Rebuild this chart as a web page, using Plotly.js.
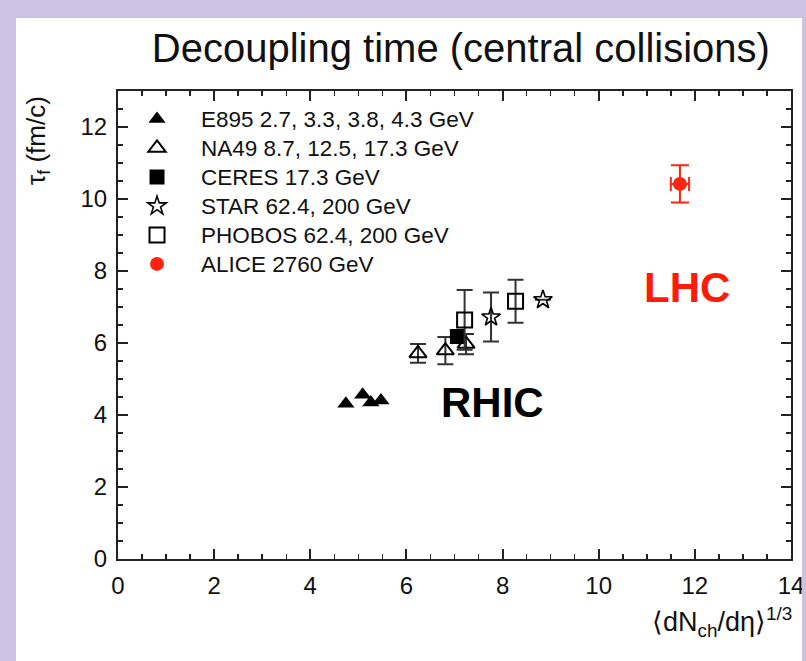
<!DOCTYPE html>
<html><head><meta charset="utf-8">
<script src="https://cdn.plot.ly/plotly-3.0.1.min.js"></script>
<style>
html,body{margin:0;padding:0;width:806px;height:661px;overflow:hidden;background:#cdc2e3;}
#chart{position:absolute;left:16px;top:18px;width:786px;height:643px;background:#fff;overflow:hidden;}
</style></head><body><div id="chart"></div>
<script>
// ---- data ----
const e895X = [4.74, 5.09, 5.26, 5.47];
const e895Y = [4.31, 4.56, 4.35, 4.40];

const na49X = [6.24, 6.81, 7.24];
const na49Y = [5.71, 5.79, 5.97];
const na49Err = [0.26, 0.38, 0.28];

const ceresX = [7.06];
const ceresY = [6.18];

const starX = [7.76, 8.84];
const starY = [6.72, 7.20];
const starErr = [0.68, 0];

const phobosX = [7.21, 8.27];
const phobosY = [6.64, 7.16];
const phobosErr = [0.83, 0.60];

const aliceX = [11.69];
const aliceY = [10.42];
const aliceErrY = [0.52];
const aliceErrX = [0.19];

const names = [
  'E895 2.7, 3.3, 3.8, 4.3 GeV',
  'NA49 8.7, 12.5, 17.3 GeV',
  'CERES 17.3 GeV',
  'STAR 62.4, 200 GeV',
  'PHOBOS 62.4, 200 GeV',
  'ALICE 2760 GeV'
];
const xTicks = [0, 2, 4, 6, 8, 10, 12, 14];
const yTicks = [0, 2, 4, 6, 8, 10, 12];

// ---- styling ----
const FONT = 'Liberation Sans, Arial, Helvetica, sans-serif';
const INK = '#222';
const RED = '#ff2410';
const errBlack = (arr) => ({type: 'data', array: arr, visible: true, color: '#333', thickness: 2, width: 8});
const legName = (s) => '<span style="font-size:22.5px">' + s + '</span>';

const traces = [
  {x: e895X, y: e895Y, name: legName(names[0]), type: 'scatter', mode: 'markers',
   marker: {symbol: 'triangle-up', size: 15, color: '#000'}},
  {x: na49X, y: na49Y, name: legName(names[1]), type: 'scatter', mode: 'markers',
   error_y: errBlack(na49Err),
   marker: {symbol: 'triangle-up-open', size: 15, color: '#000', line: {width: 2, color: '#000'}}},
  {x: ceresX, y: ceresY, name: legName(names[2]), type: 'scatter', mode: 'markers',
   marker: {symbol: 'square', size: 15, color: '#000'}},
  {x: starX, y: starY, name: legName(names[3]), type: 'scatter', mode: 'markers',
   error_y: errBlack(starErr),
   marker: {symbol: 'star-open', size: 14, color: '#000', line: {width: 1.6, color: '#000'}}},
  {x: phobosX, y: phobosY, name: legName(names[4]), type: 'scatter', mode: 'markers',
   error_y: errBlack(phobosErr),
   marker: {symbol: 'square-open', size: 15, color: '#000', line: {width: 2, color: '#000'}}},
  {x: aliceX, y: aliceY, name: legName(names[5]), type: 'scatter', mode: 'markers',
   error_y: {type: 'data', array: aliceErrY, visible: true, color: RED, thickness: 2, width: 9},
   error_x: {type: 'data', array: aliceErrX, visible: true, color: RED, thickness: 2, width: 7},
   marker: {symbol: 'circle', size: 14, color: RED}}
];

const axisBase = {
  showgrid: false, zeroline: false,
  showline: true, linecolor: INK, linewidth: 2, mirror: 'ticks',
  ticks: 'inside', ticklen: 10, tickwidth: 2, tickcolor: INK,
  tickfont: {family: FONT, size: 24, color: '#111'},
  minor: {dtick: 0.5, ticks: 'inside', ticklen: 5, tickwidth: 1.5, tickcolor: INK, showgrid: false},
  ticklabelstandoff: 4, ticklabeloverflow: 'allow'
};

const layout = {
  width: 786, height: 643,
  margin: {l: 102, r: 11, t: 73, b: 102},
  paper_bgcolor: '#fff', plot_bgcolor: '#fff',
  font: {family: FONT, color: '#111'},
  title: {text: 'Decoupling time (central collisions)', font: {family: FONT, size: 40, color: '#111'},
          xref: 'container', x: 0.566, xanchor: 'center', yref: 'container', y: 0.953, yanchor: 'middle'},
  xaxis: Object.assign({}, axisBase, {range: [0, 14], tickmode: 'array', tickvals: xTicks, ticktext: xTicks.map(String)}),
  yaxis: Object.assign({}, axisBase, {range: [0, 13], tickmode: 'array', tickvals: yTicks, ticktext: yTicks.map(String)}),
  showlegend: true,
  legend: {x: -0.0074, xanchor: 'left', y: 0.982, yanchor: 'top', itemwidth: 78,
           font: {family: FONT, size: 20, color: '#111'}, bgcolor: 'rgba(0,0,0,0)', borderwidth: 0},
  annotations: [
    {text: 'RHIC', x: 7.79, y: 4.36, xref: 'x', yref: 'y', showarrow: false,
     font: {family: FONT, size: 42, color: '#000', weight: 'bold'}},
    {text: 'LHC', x: 11.84, y: 7.55, xref: 'x', yref: 'y', showarrow: false,
     font: {family: FONT, size: 42, color: '#ff1a0a', weight: 'bold'}},
    {text: 'τ<sub>f</sub> (fm/c)', textangle: -90, xref: 'paper', yref: 'paper',
     x: -0.1204, y: 0.895, xanchor: 'center', yanchor: 'middle', showarrow: false,
     font: {family: FONT, size: 26, color: '#111'}},
    {text: '⟨dN<sub>ch</sub>/dη⟩<sup>1/3</sup>', xref: 'paper', yref: 'paper',
     x: 1.004, y: -0.134, xanchor: 'right', yanchor: 'middle', showarrow: false,
     font: {family: FONT, size: 27, color: '#111'}}
  ]
};

Plotly.newPlot('chart', traces, layout, {displayModeBar: false, staticPlot: true});
</script></body></html>
